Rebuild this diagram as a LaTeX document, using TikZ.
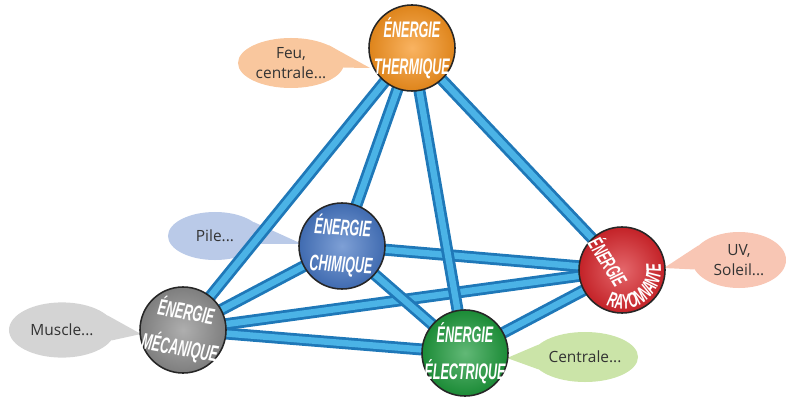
\documentclass[tikz,border=0pt]{standalone}
\usepackage{fontspec}
\setsansfont{Open Sans}
\newfontfamily\spherefont[FakeStretch=0.56]{Liberation Sans}
\usetikzlibrary{shapes.geometric,decorations.text}

\definecolor{tubedark}{HTML}{1F78B8}
\definecolor{tubelight}{HTML}{4BB3E6}
\definecolor{thcol}{HTML}{F7931E}
\definecolor{chcol}{HTML}{4777C4}
\definecolor{racol}{HTML}{D9262C}
\definecolor{mecol}{HTML}{8C8C8C}
\definecolor{elcol}{HTML}{1E9A3C}
\definecolor{feucol}{HTML}{F9C79E}
\definecolor{pilecol}{HTML}{BACAE8}
\definecolor{uvcol}{HTML}{F8C6B4}
\definecolor{musclecol}{HTML}{D4D4D4}
\definecolor{centralecol}{HTML}{CBE4A8}

\tikzset{
    tube/.style={line width=0.3cm, tubedark,
        postaction={draw, tubelight, line width=0.16cm}},
    sphere/.style={circle, draw=black!85, line width=1.1pt, minimum size=2.15cm,
        inner sep=0pt, shading=radial, inner color=#1!70!white, outer color=#1!90!black},
    spheretext/.style={text=white, align=center,
        font=\spherefont\bfseries\itshape\fontsize{16}{26}\selectfont},
    bubble/.style={ellipse, fill=#1, minimum width=2.65cm, minimum height=1.25cm,
        inner sep=0pt, align=center, text=black!80,
        font=\sffamily\fontsize{11}{14}\selectfont}
}

\begin{document}
\begin{tikzpicture}[x=0.025cm, y=-0.025cm]
    \useasboundingbox (0,0) rectangle (786,399);

    % centres
    \coordinate (th) at (412,48);
    \coordinate (ch) at (342,246);
    \coordinate (ra) at (622,270);
    \coordinate (me) at (183,330);
    \coordinate (el) at (465,353);

    % bulles
    \node[bubble=feucol] (feu) at (291,63) {Feu,\\centrale...};
    \node[bubble=pilecol, minimum width=2.35cm, minimum height=1.2cm] (pile) at (215,236) {Pile...};
    \node[bubble=uvcol, minimum width=2.35cm, minimum height=1.4cm] (uv) at (739,260) {UV,\\Soleil...};
    \node[bubble=musclecol, minimum height=1.38cm] (muscle) at (62,330) {Muscle...};
    \node[bubble=centralecol] (centrale) at (585,357) {Centrale...};

    \coordinate (feutip) at (370,68);
    \coordinate (piletip) at (302,244);
    \coordinate (uvtip) at (664,268);
    \coordinate (muscletip) at (141,334);
    \coordinate (centraletip) at (507,358);
    \fill[feucol] (feu.25) -- (feutip) -- (feu.-5) -- cycle;
    \fill[pilecol] (pile.20) -- (piletip) -- (pile.-10) -- cycle;
    \fill[uvcol] (uv.160) -- (uvtip) -- (uv.192) -- cycle;
    \fill[musclecol] (muscle.18) -- (muscletip) -- (muscle.-12) -- cycle;
    \fill[centralecol] (centrale.165) -- (centraletip) -- (centrale.195) -- cycle;

    % tubes
    \draw[tube] (ch) -- (ra);
    \draw[tube] (me) -- (ra);
    \draw[tube] (me) -- (ch);
    \draw[tube] (me) -- (el);
    \draw[tube] (ch) -- (el);
    \draw[tube] (el) -- (ra);
    \draw[tube] (th) -- (me);
    \draw[tube] (th) -- (ch);
    \draw[tube] (th) -- (ra);
    \draw[tube] (th) -- (el);

    % spheres
    \node[sphere=thcol] (thermique) at (th) {};
    \node[sphere=chcol] (chimique) at (ch) {};
    \node[sphere=racol] (rayonnante) at (ra) {};
    \node[sphere=mecol] (mecanique) at (me) {};
    \node[sphere=elcol] (electrique) at (el) {};

    \node[spheretext] (thermiquetext) at (th) {ÉNERGIE\\THERMIQUE};
    \node[spheretext, rotate=-3] (chimiquetext) at (ch) {ÉNERGIE\\CHIMIQUE};
    \node[spheretext, rotate=-10] (mecaniquetext) at (me) {ÉNERGIE\\MÉCANIQUE};
    \node[spheretext] (electriquetext) at (el) {ÉNERGIE\\ÉLECTRIQUE};
    \node[spheretext, rotate=-58, font=\spherefont\bfseries\itshape\fontsize{15}{18}\selectfont]
        (rayonnantetext) at (609,261) {ÉNERGIE};
    \begin{scope}[shift={(ra)}, x=0.025cm, y=0.025cm]
        \path[decorate, decoration={text along path, text align=center, text color=white,
            text={|\spherefont\bfseries\itshape\fontsize{15}{15}\selectfont|RAYONNANTE}}]
            (-130:39) arc[start angle=-130, end angle=25, radius=39];
    \end{scope}
\end{tikzpicture}
\end{document}
